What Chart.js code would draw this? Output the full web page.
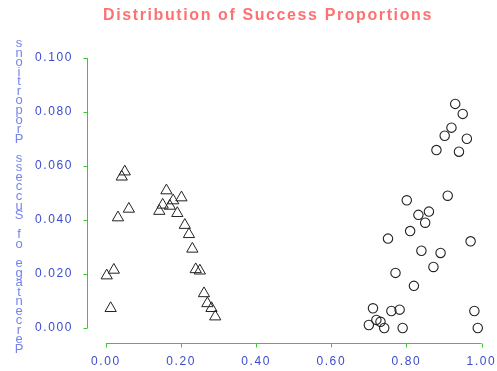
<!DOCTYPE html>
<html>
<head>
<meta charset="utf-8">
<script src="https://cdn.jsdelivr.net/npm/chart.js@4.4.1/dist/chart.umd.min.js"></script>
<style>
  html, body { margin: 0; padding: 0; background: #fff; }
  #wrap { width: 497px; height: 371px; }
</style>
</head>
<body>
<div id="wrap"><canvas id="chart"></canvas></div>
<script>
// Chart text
const chartTitle = 'Distribution of Success Proportions';
const yTitle = 'Percentage of Success Proportions';

// Tick values
const xTicks = [0, 0.2, 0.4, 0.6, 0.8, 1.0];
const yTicks = [0, 0.02, 0.04, 0.06, 0.08, 0.1];

// Group 1 (triangles)
const triX = [0.050, 0.042, 0.161, 0.201, 0.179, 0.151, 0.170, 0.142, 0.190, 0.061, 0.032, 0.210,
              0.221, 0.230, 0.021, 0.002, 0.239, 0.250, 0.261, 0.270, 0.281, 0.291, 0.0125];
const triY = [0.0579, 0.0560, 0.0509, 0.0483, 0.0472, 0.0456, 0.0452, 0.0433, 0.0425, 0.0441, 0.0409, 0.0381,
              0.0347, 0.0293, 0.0215, 0.0194, 0.0217, 0.0212, 0.0128, 0.0091, 0.0073, 0.0042, 0.0073];

// Group 2 (circles)
const circX = [0.930, 0.950, 0.920, 0.902, 0.961, 0.880, 0.940, 0.910, 0.801, 0.860, 0.832, 0.850,
               0.810, 0.751, 0.971, 0.840, 0.891, 0.872, 0.771, 0.820, 0.711, 0.760, 0.782, 0.981,
               0.720, 0.731, 0.700, 0.741, 0.790, 0.990];
const circY = [0.0830, 0.0793, 0.0742, 0.0712, 0.0701, 0.0659, 0.0653, 0.0490, 0.0473, 0.0431, 0.0419, 0.0390,
               0.0359, 0.0331, 0.0321, 0.0286, 0.0278, 0.0226, 0.0204, 0.0156, 0.0073, 0.0063, 0.0068, 0.0063,
               0.0030, 0.0023, 0.0011, 0.0000, 0.0000, 0.0000];

const toPoints = (xs, ys) => xs.map((x, i) => ({ x: x, y: ys[i] }));

const axisGreen = '#33cc33';
const tickBlue = '#3b4bcc';

// letter spacing for the canvas text
function setSpacing(chart) {
  chart.ctx.letterSpacing = '1.6px';
}

// offset axes, title and stacked y title
const extrasPlugin = {
  id: 'extras',
  beforeUpdate: setSpacing,
  beforeLayout: setSpacing,
  beforeDraw: setSpacing,
  afterDraw(chart) {
    const ctx = chart.ctx;
    const xs = chart.scales.x;
    const ys = chart.scales.y;
    ctx.save();
    ctx.strokeStyle = axisGreen;
    ctx.lineWidth = 1;

    // y axis line + ticks
    const yx = Math.round(chart.chartArea.left) + 0.5;
    ctx.beginPath();
    ctx.moveTo(yx, ys.getPixelForValue(yTicks[0]));
    ctx.lineTo(yx, ys.getPixelForValue(yTicks[yTicks.length - 1]));
    yTicks.forEach(v => {
      const py = Math.round(ys.getPixelForValue(v)) + 0.5;
      ctx.moveTo(yx, py);
      ctx.lineTo(yx - 4, py);
    });
    ctx.stroke();

    // x axis line + ticks
    const xy = Math.round(chart.chartArea.bottom) + 0.5;
    ctx.beginPath();
    ctx.moveTo(xs.getPixelForValue(xTicks[0]), xy);
    ctx.lineTo(xs.getPixelForValue(xTicks[xTicks.length - 1]), xy);
    xTicks.forEach(v => {
      const px = Math.round(xs.getPixelForValue(v)) + 0.5;
      ctx.moveTo(px, xy);
      ctx.lineTo(px, xy + 4);
    });
    ctx.stroke();

    // title
    ctx.letterSpacing = '1.6px';
    ctx.fillStyle = '#ff7070';
    ctx.font = 'bold 16px "Liberation Sans", Arial, sans-serif';
    ctx.textAlign = 'center';
    ctx.textBaseline = 'alphabetic';
    ctx.fillText(chartTitle, 268, 20);

    // y title: upright letters stacked, reading bottom to top
    ctx.letterSpacing = '0px';
    ctx.fillStyle = '#7484ee';
    ctx.font = '13px "Liberation Sans", Arial, sans-serif';
    const step = 9.56;
    for (let i = 0; i < yTitle.length; i++) {
      const ch = yTitle[i];
      if (ch === ' ') continue;
      ctx.fillText(ch, 19, 353 - i * step);
    }
    ctx.restore();
  }
};

const ctx = document.getElementById('chart').getContext('2d');
const chart = new Chart(ctx, {
  type: 'scatter',
  data: {
    datasets: [{
      label: 'Group A',
      data: toPoints(triX, triY),
      pointStyle: 'triangle',
      pointRadius: 6.5,
      pointHoverRadius: 6.5,
      borderColor: '#222',
      backgroundColor: 'rgba(0,0,0,0)',
      borderWidth: 1
    }, {
      label: 'Group B',
      data: toPoints(circX, circY),
      pointStyle: 'circle',
      pointRadius: 4.7,
      pointHoverRadius: 4.7,
      borderColor: '#222',
      backgroundColor: 'rgba(0,0,0,0)',
      borderWidth: 1.1
    }]
  },
  options: {
    responsive: true,
    maintainAspectRatio: false,
    animation: false,
    events: [],
    layout: { padding: { top: 58, right: 7, bottom: 0, left: 0 } },
    plugins: {
      legend: { display: false },
      title: { display: false },
      tooltip: { enabled: false }
    },
    scales: {
      x: {
        type: 'linear',
        min: -0.0505,
        max: 1.0213,
        grid: { display: false, drawTicks: false },
        border: { display: false },
        afterBuildTicks: scale => { scale.ticks = xTicks.map(v => ({ value: v })); },
        afterFit: scale => {
          scale.height = 28;
          scale.paddingLeft = 0;
          scale.paddingRight = 0;
        },
        ticks: {
          padding: 11,
          color: tickBlue,
          font: { family: '"Liberation Sans", Arial, sans-serif', size: 12 },
          maxRotation: 0,
          autoSkip: false,
          callback: v => v.toFixed(2)
        }
      },
      y: {
        type: 'linear',
        min: -0.00556,
        max: 0.1,
        grid: { display: false, drawTicks: false },
        border: { display: false },
        afterBuildTicks: scale => { scale.ticks = yTicks.map(v => ({ value: v })); },
        afterFit: scale => {
          scale.width = 87;
          scale.paddingTop = 0;
          scale.paddingBottom = 0;
        },
        ticks: {
          padding: 14,
          color: tickBlue,
          font: { family: '"Liberation Sans", Arial, sans-serif', size: 12 },
          autoSkip: false,
          callback: v => v.toFixed(3)
        }
      }
    }
  },
  plugins: [extrasPlugin]
});
</script>
</body>
</html>
